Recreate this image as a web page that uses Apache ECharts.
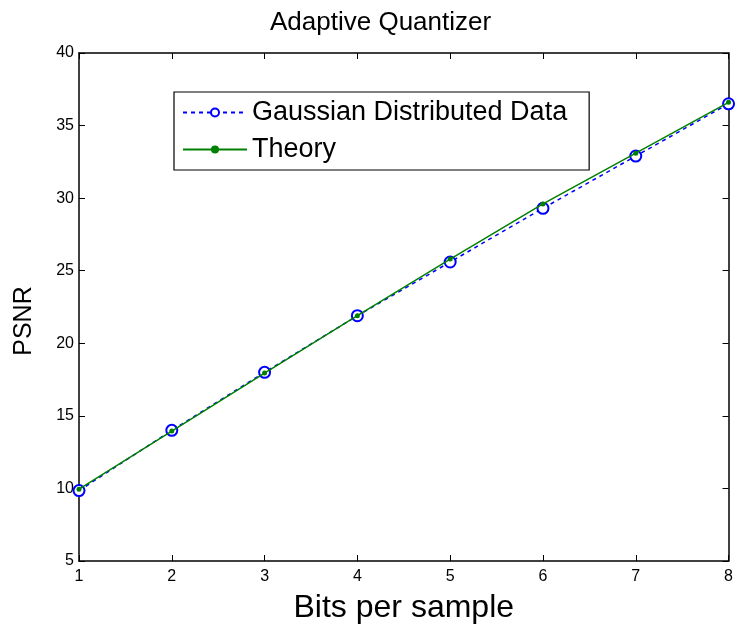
<!DOCTYPE html>
<html><head><meta charset="utf-8">
<script src="https://cdn.jsdelivr.net/npm/echarts@6/dist/echarts.min.js"></script>
<style>html,body{margin:0;padding:0;background:#fff}#c{width:736px;height:629px}</style>
</head><body><div id="c"></div>
<script>
const bits = [1, 2, 3, 4, 5, 6, 7, 8];
const gaussian = [9.85, 14.0, 18.0, 21.9, 25.6, 29.3, 32.9, 36.5];
const theory = [9.95, 13.95, 17.95, 21.9, 25.8, 29.6, 33.1, 36.6];
const yTicks = [5, 10, 15, 20, 25, 30, 35, 40];

const F = 'Liberation Sans, Arial, sans-serif';
const chart = echarts.init(document.getElementById('c'));
const axLine = {show: true, lineStyle: {color: '#000', width: 1.5}};
chart.setOption({
  animation: false,
  title: {text: 'Adaptive Quantizer', left: 265, top: 5, textStyle: {fontFamily: F, fontSize: 26, fontWeight: 'normal', color: '#000'}},
  legend: {
    orient: 'vertical', left: 174, top: 92,
    borderColor: '#000', borderWidth: 1.2, padding: [7, 22, 7, 8], itemGap: 10,
    itemWidth: 64, itemHeight: 10,
    textStyle: {fontFamily: F, fontSize: 27, color: '#000'},
    data: ['Gaussian Distributed Data', 'Theory']
  },
  grid: {left: 79, right: 5, top: 53, bottom: 66, containLabel: false},
  xAxis: [{
    type: 'value', min: 1, max: 8, interval: 1,
    name: 'Bits per sample', nameLocation: 'middle', nameGap: 31,
    nameTextStyle: {fontFamily: F, fontSize: 32, color: '#000'},
    axisLine: axLine, axisTick: {inside: true, length: 6, lineStyle: {color: '#000'}},
    axisLabel: {fontFamily: F, fontSize: 16, color: '#000', margin: 8},
    splitLine: {show: false}
  }, {
    type: 'value', min: 1, max: 8, interval: 1, position: 'top',
    axisLine: axLine, axisTick: {inside: true, length: 6, lineStyle: {color: '#000'}},
    axisLabel: {show: false}, splitLine: {show: false}
  }],
  yAxis: [{
    type: 'value', min: 5, max: 40, interval: 5,
    name: 'PSNR', nameLocation: 'middle', nameGap: 42,
    nameTextStyle: {fontFamily: F, fontSize: 25, color: '#000', padding: [0, 28, 0, 0]},
    axisLine: axLine, axisTick: {inside: true, length: 6, lineStyle: {color: '#000'}},
    axisLabel: {fontFamily: F, fontSize: 16, color: '#000', margin: 5,
      formatter: v => yTicks.includes(v) ? String(v) : ''},
    splitLine: {show: false}
  }, {
    type: 'value', min: 5, max: 40, interval: 5, position: 'right',
    axisLine: axLine, axisTick: {inside: true, length: 6, lineStyle: {color: '#000'}},
    axisLabel: {show: false}, splitLine: {show: false}
  }],
  series: [{
    name: 'Gaussian Distributed Data', type: 'line',
    data: bits.map((b, i) => [b, gaussian[i]]),
    symbol: 'emptyCircle', symbolSize: 11,
    lineStyle: {color: '#0000ff', width: 1.5, type: [4, 4]},
    itemStyle: {color: '#0000ff', borderColor: '#0000ff', borderWidth: 1.5},
    z: 2
  }, {
    name: 'Theory', type: 'line',
    data: bits.map((b, i) => [b, theory[i]]),
    symbol: 'circle', symbolSize: 5,
    lineStyle: {color: '#008000', width: 1.5},
    itemStyle: {color: '#008000'},
    z: 3
  }]
});
</script></body></html>
